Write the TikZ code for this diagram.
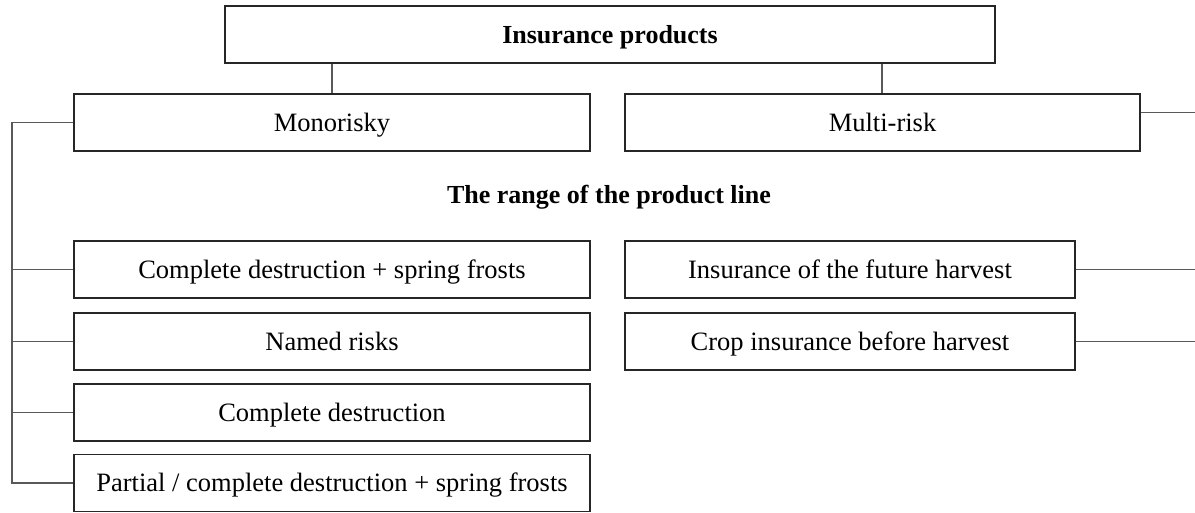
\documentclass[tikz,border=0pt]{standalone}
\usepackage{fontspec}
\setmainfont{Liberation Serif}
\begin{document}
\begin{tikzpicture}[x=1pt,y=-1pt,
  box/.style={draw=black!85,line width=1.3pt,rectangle,inner sep=0pt,minimum height=57pt,text height=17.5pt,text depth=0pt,font=\fontsize{26.5}{30}\selectfont},
  conn/.style={draw=black!65,line width=1.2pt}]
\useasboundingbox (0,0) rectangle (1195,512);
\node[box,minimum width=770pt,font=\fontsize{26}{30}\selectfont\bfseries] (top) at (610,34.5) {Insurance products};
\node[box,minimum width=516pt] (mono) at (332,122.5) {Monorisky};
\node[box,minimum width=515pt] (multi) at (882.5,122.5) {Multi-risk};
\node[font=\fontsize{26}{30}\selectfont\bfseries,text height=17.5pt,text depth=0pt,inner sep=0pt] (range) at (609,195) {The range of the product line};
\node[box,minimum width=516pt] (l1) at (332,269.5) {Complete destruction + spring frosts};
\node[box,minimum width=516pt] (l2) at (332,341.5) {Named risks};
\node[box,minimum width=516pt] (l3) at (332,412.5) {Complete destruction};
\node[box,minimum width=516pt] (l4) at (332,483) {Partial / complete destruction + spring frosts};
\node[box,minimum width=450pt] (r1) at (850,269.5) {Insurance of the future harvest};
\node[box,minimum width=450pt] (r2) at (850,341.5) {Crop insurance before harvest};
\coordinate (bus) at (12,0);
\coordinate (edge) at (1196,0);
\draw[conn] (top.south -| 332,0) -- (mono.north -| 332,0);
\draw[conn] (top.south -| 882,0) -- (multi.north -| 882,0);
\draw[conn] (mono.west) -- (mono.west -| bus) -- (l4.west -| bus) -- (l4.west);
\draw[conn] (l1.west -| bus) -- (l1.west);
\draw[conn] (l2.west -| bus) -- (l2.west);
\draw[conn] (l3.west -| bus) -- (l3.west);
\draw[conn] ([yshift=10pt]multi.east) -- ([yshift=10pt]multi.east -| edge);
\draw[conn] (r1.east) -- (r1.east -| edge);
\draw[conn] (r2.east) -- (r2.east -| edge);
\end{tikzpicture}
\end{document}
